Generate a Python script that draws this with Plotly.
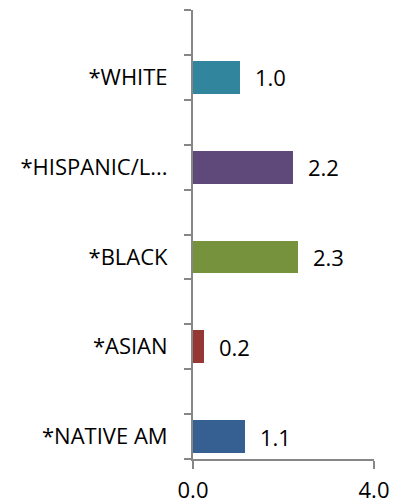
import plotly.graph_objects as go

categories = ["*NATIVE AM", "*ASIAN", "*BLACK", "*HISPANIC/L...", "*WHITE"]
values = [1.14, 0.25, 2.31, 2.22, 1.04]
colors = ["#376092", "#953735", "#76923C", "#5F497A", "#31859C"]
x_tick_vals = [0, 4]
x_tick_text = ["0.0", "4.0"]

# category order bottom-to-top, with blank spacer rows between the groups
axis_order = []
for i, c in enumerate(categories):
    axis_order.append(c)
    axis_order.append(" " * (i + 1))

FONT = "Open Sans"
FS = 22
fig = go.Figure()
fig.add_trace(go.Bar(
    x=values, y=categories, orientation="h",
    marker=dict(color=colors, line=dict(width=0)),
    width=0.73, hoverinfo="skip",
))
for c, v in zip(categories, values):
    fig.add_annotation(x=v, y=c, text=f"{v:.1f}", showarrow=False,
                       xanchor="left", yanchor="middle", xshift=13,
                       font=dict(family=FONT, size=FS, color="#000000"))

# the page body adds an 8px offset, so margins are reduced accordingly
fig.update_layout(
    width=404, height=504,
    margin=dict(l=185, r=38, t=2, b=53),
    paper_bgcolor="white", plot_bgcolor="white",
    showlegend=False, bargap=0,
    font=dict(family=FONT, size=FS, color="#000000"),
)
fig.update_xaxes(
    range=[0, 4], tickvals=x_tick_vals, ticktext=x_tick_text,
    showgrid=False, zeroline=False, automargin=False,
    showline=True, linecolor="#868686", linewidth=2,
    ticks="outside", ticklen=8, tickcolor="#868686", tickwidth=2,
    ticklabelstandoff=3,
    tickfont=dict(family=FONT, size=FS, color="#000000"),
)
fig.update_yaxes(
    type="category", categoryorder="array", categoryarray=axis_order,
    range=[-0.5, len(axis_order) - 0.5],
    tickson="boundaries", showgrid=False, zeroline=False, automargin=False,
    showline=True, linecolor="#868686", linewidth=2,
    ticks="outside", ticklen=7, tickcolor="#868686", tickwidth=2,
    ticklabelstandoff=19,
    tickfont=dict(family=FONT, size=FS, color="#000000"),
)
fig.write_html("out.html")
